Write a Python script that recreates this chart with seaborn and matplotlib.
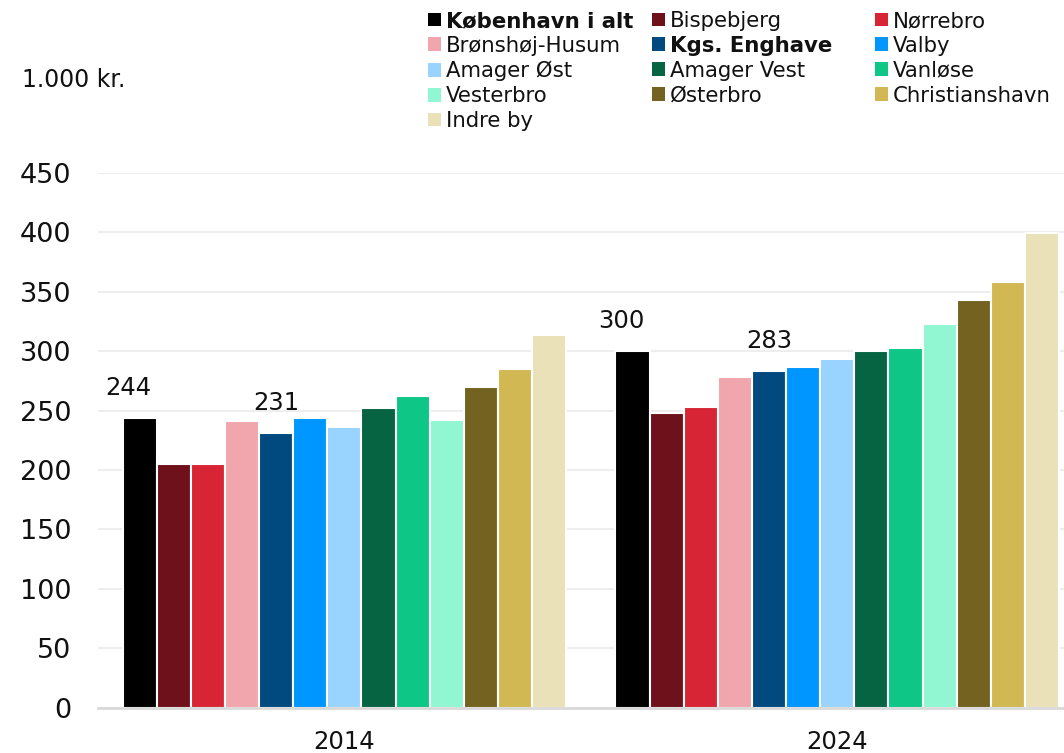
import pandas as pd
import matplotlib.pyplot as plt
import seaborn as sns
from matplotlib.patches import Patch

# Data
years = ['2014', '2024']
areas = ['København i alt', 'Bispebjerg', 'Nørrebro', 'Brønshøj-Husum', 'Kgs. Enghave',
         'Valby', 'Amager Øst', 'Amager Vest', 'Vanløse', 'Vesterbro', 'Østerbro',
         'Christianshavn', 'Indre by']
values_2014 = [244, 205, 205, 241, 231, 244, 236, 252, 262, 242, 270, 285, 314]
values_2024 = [300, 248, 253, 278, 283, 287, 293, 300, 303, 323, 343, 358, 399]
colors = ['#000000', '#6E111B', '#D82535', '#F0A6AC', '#004A80', '#0096FF', '#99D3FF',
          '#066443', '#0EC685', '#91F7D3', '#736220', '#D1B853', '#EAE1B9']
labelled = ['København i alt', 'Kgs. Enghave']

df = pd.DataFrame({
    'year': [y for y in years for _ in areas],
    'area': areas * 2,
    'value': values_2014 + values_2024,
})

sns.set_style('white')
plt.rcParams['font.family'] = ['DejaVu Sans']
txt = '#111111'

fig = plt.figure(figsize=(10.64, 7.53), dpi=100)
ax = fig.add_axes([0.092, 0.06, 0.908, 0.7105])

sns.barplot(data=df, x='year', y='value', hue='area', hue_order=areas, palette=colors,
            width=0.9, saturation=1, edgecolor='white', linewidth=1.5, legend=False, ax=ax)

# value labels on the two highlighted series
for area, cont in zip(areas, ax.containers):
    if area not in labelled:
        continue
    dx = -8 if area == 'København i alt' else 0
    for bar in cont:
        ax.annotate(f'{bar.get_height():.0f}',
                    (bar.get_x() + bar.get_width() / 2, bar.get_height()),
                    xytext=(dx, 13), textcoords='offset points',
                    ha='center', va='bottom', fontsize=17.5, color=txt)

ax.set_ylim(0, 450)
ax.set_xlim(-0.5, 1.46)
ax.set_yticks(range(0, 451, 50))
ax.set_xlabel('')
ax.set_ylabel('')
ax.grid(axis='y', color='#eeeeee', linewidth=1.5)
ax.set_axisbelow(True)
for s in ['top', 'right', 'left']:
    ax.spines[s].set_visible(False)
ax.spines['bottom'].set_color('#d9d9d9')
ax.spines['bottom'].set_linewidth(2)
ax.tick_params(axis='y', length=0, pad=19, labelsize=19.5, labelcolor=txt)
ax.tick_params(axis='x', length=0, pad=16, labelsize=17.5, labelcolor=txt)

fig.text(22 / 1064, 1 - 80 / 753, '1.000 kr.', fontsize=17, va='center', color=txt)

# legend: three single-column legends so columns sit where the reference has them
handles = [Patch(facecolor=c, edgecolor='none') for c in colors]
col_x = [428, 652, 875]
for col in range(3):
    idx = list(range(col, len(areas), 3))
    leg = fig.legend([handles[i] for i in idx], [areas[i] for i in idx],
                     loc='upper left', bbox_to_anchor=(col_x[col] / 1064, 1 - 11 / 753),
                     frameon=False, fontsize=15.3, handlelength=0.63, handleheight=0.63,
                     handletextpad=0.2, labelspacing=0.23, borderpad=0, borderaxespad=0)
    for t in leg.get_texts():
        t.set_color(txt)
        if t.get_text() in labelled:
            t.set_fontweight('bold')

fig.savefig('out.png', dpi=100)
